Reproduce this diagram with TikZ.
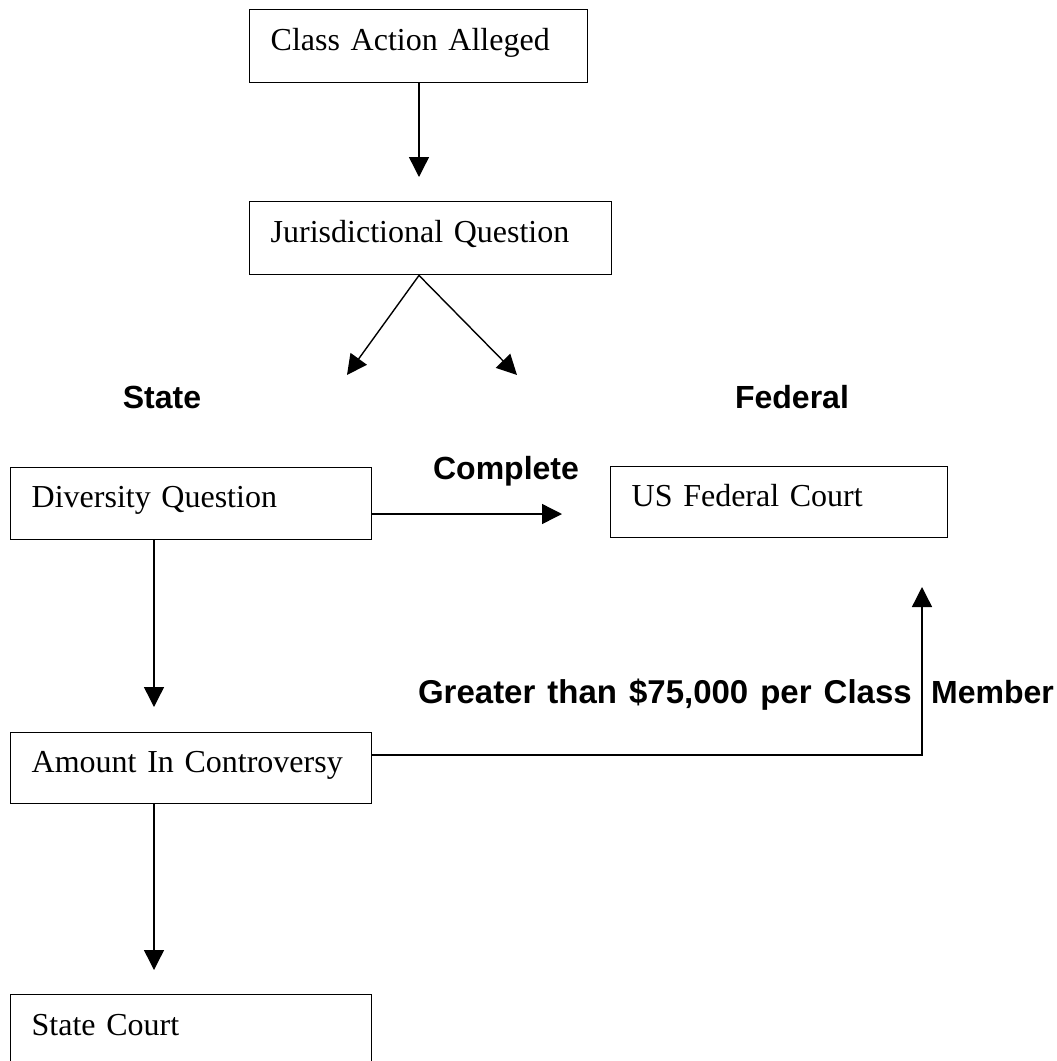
\documentclass[tikz,border=0pt]{standalone}
\usepackage{fontspec}
\setmainfont{Liberation Serif}
\newfontfamily\lblfont{Liberation Sans}
\usetikzlibrary{arrows.meta}
\begin{document}
\begin{tikzpicture}[x=1pt,y=-1pt,
  box/.style={draw, line width=1.4pt, anchor=north west, align=left,
    inner xsep=21pt, inner ysep=0pt, text height=22pt, text depth=14pt,
    font=\fontsize{32}{38}\selectfont},
  lbl/.style={font=\lblfont\bfseries\fontsize{32}{36}\selectfont, inner sep=0pt},
  conn/.style={line width=1.4pt, -{Triangle[length=20pt,width=20pt]}}]
\useasboundingbox (0,0) rectangle (1057,1061);
\clip (0,0) rectangle (1057,1061);
% boxes
\node[box, minimum width=338pt, minimum height=73pt, text width=296pt] (cls) at (249,9) {Class Action Alleged};
\node[box, minimum width=362pt, minimum height=73pt, text width=320pt] (jq) at (249,201) {Jurisdictional Question};
\node[box, minimum width=361pt, minimum height=72pt, text width=319pt] (div) at (10,467) {Diversity Question};
\node[box, minimum width=337pt, minimum height=71pt, text width=295pt] (fed) at (610,466) {US Federal Court};
\node[box, minimum width=361pt, minimum height=71pt, text width=319pt] (amt) at (10,732) {Amount In Controversy};
\node[box, minimum width=361pt, minimum height=76pt, text width=319pt, text depth=17pt] (sc) at (10,994) {State Court};
% labels
\node[lbl] (state) at (162,397) {State};
\node[lbl] (federal) at (792,397) {Federal};
\node[lbl, anchor=base] (complete) at (506,479) {Complete};
\node[lbl, anchor=base east, font=\lblfont\bfseries\fontsize{33}{36}\selectfont] (greater) at (912,703) {\spaceskip=12pt Greater than \$75,000 per Class};
\node[lbl, anchor=base west] (member) at (931,703) {Member};
% free-end coordinates
\coordinate (t1) at (419,177);
\coordinate (jqs) at (419,274);
\coordinate (tl) at (347,375);
\coordinate (tr) at (517,375);
\coordinate (ds) at (371,514);
\coordinate (te) at (562,514);
\coordinate (dv) at (154,539);
\coordinate (tv1) at (154,707);
\coordinate (as) at (371,755);
\coordinate (corner) at (922,755);
\coordinate (tu) at (922,587);
\coordinate (av) at (154,803);
\coordinate (tv2) at (154,970);
% connectors
\draw[conn] (cls.south -| t1) -- (t1);
\draw[conn] (jq.south -| jqs) -- (tl);
\draw[conn] (jq.south -| jqs) -- (tr);
\draw[conn] (div.east |- ds) -- (te);
\draw[conn] (div.south -| dv) -- (tv1);
\draw[conn] (amt.east |- as) -- (corner) -- (tu);
\draw[conn] (amt.south -| av) -- (tv2);
\end{tikzpicture}
\end{document}
